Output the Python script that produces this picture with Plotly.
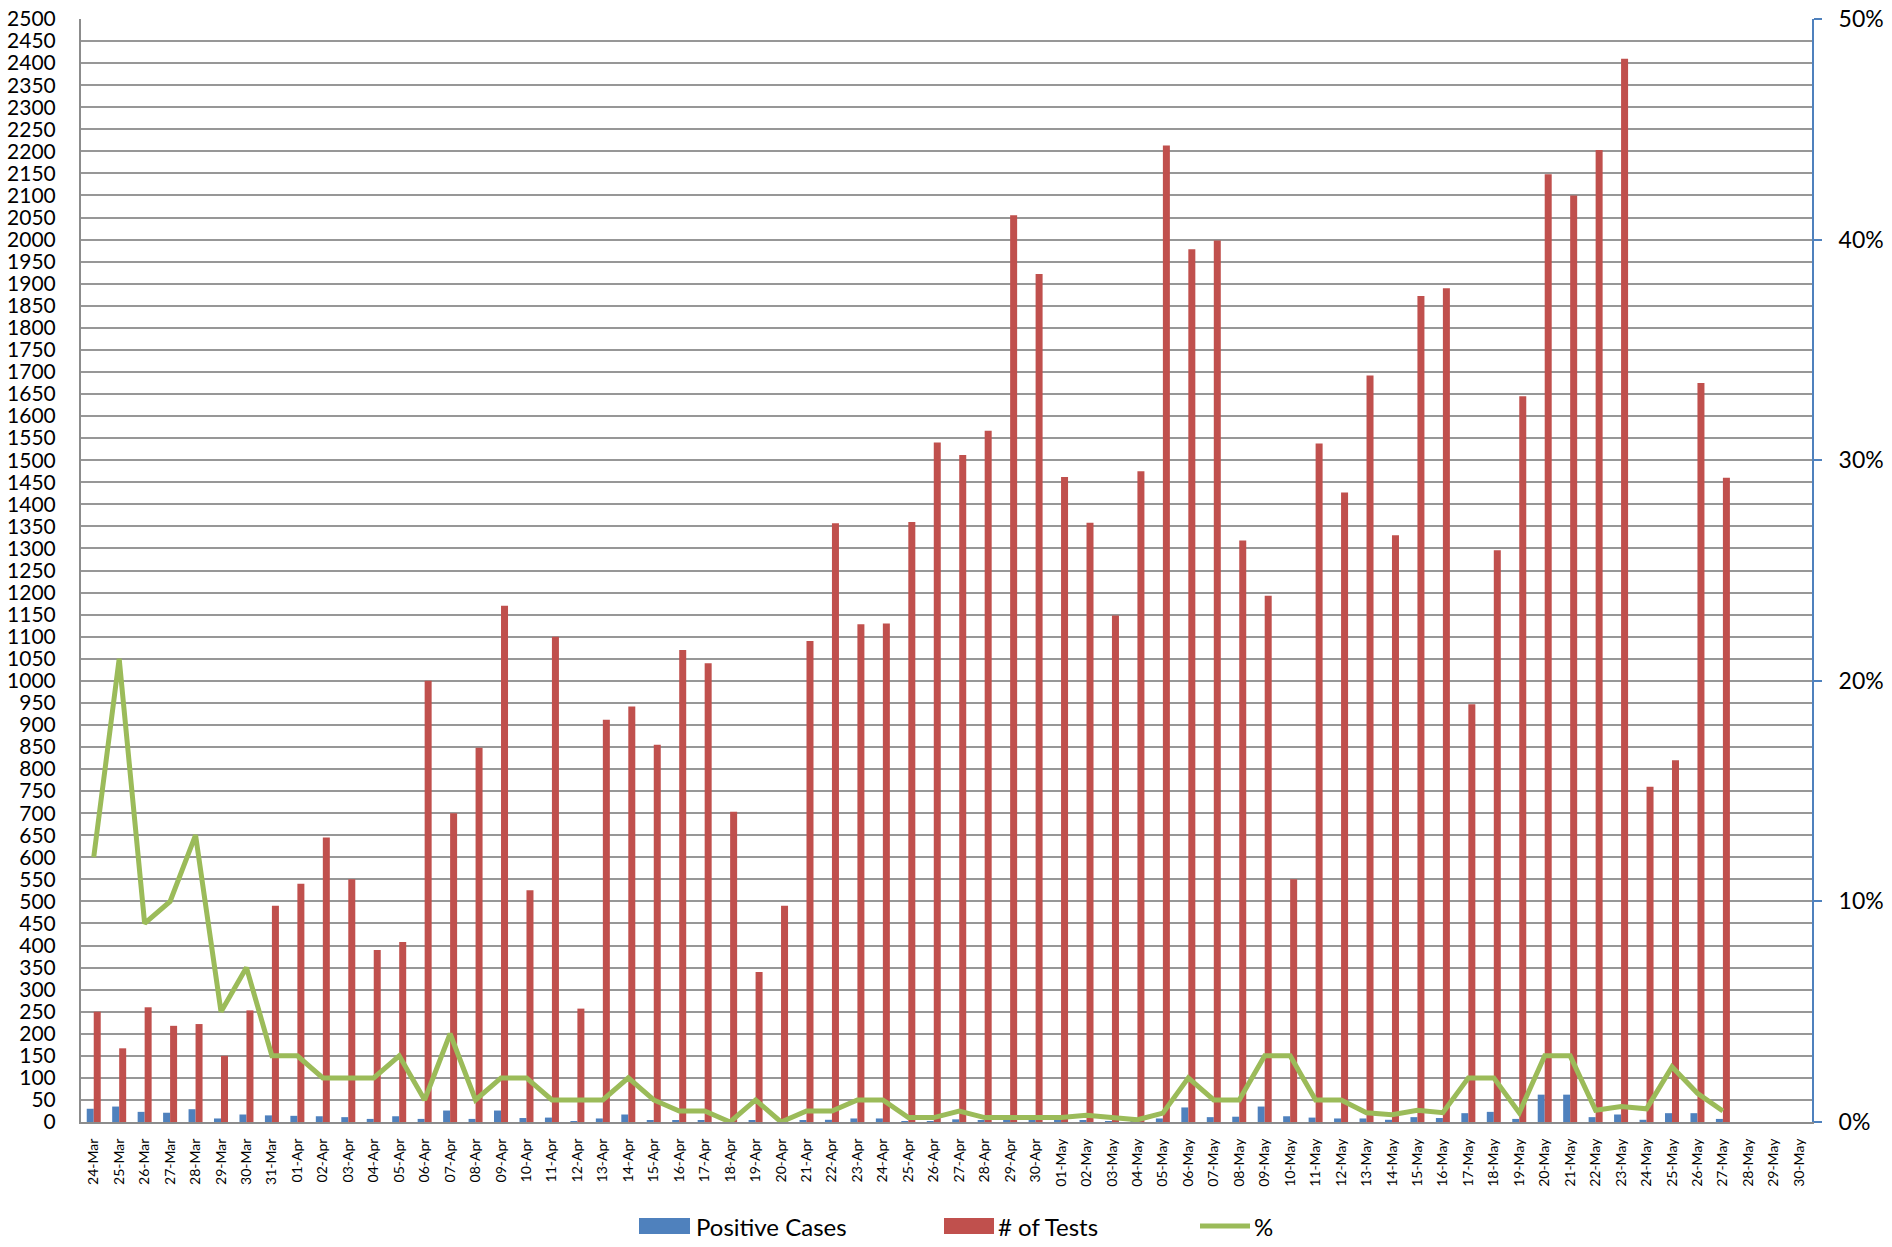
import plotly.graph_objects as go

dates = ["24-Mar","25-Mar","26-Mar","27-Mar","28-Mar","29-Mar","30-Mar","31-Mar",
         "01-Apr","02-Apr","03-Apr","04-Apr","05-Apr","06-Apr","07-Apr","08-Apr","09-Apr","10-Apr",
         "11-Apr","12-Apr","13-Apr","14-Apr","15-Apr","16-Apr","17-Apr","18-Apr","19-Apr","20-Apr",
         "21-Apr","22-Apr","23-Apr","24-Apr","25-Apr","26-Apr","27-Apr","28-Apr","29-Apr","30-Apr",
         "01-May","02-May","03-May","04-May","05-May","06-May","07-May","08-May","09-May","10-May",
         "11-May","12-May","13-May","14-May","15-May","16-May","17-May","18-May","19-May","20-May",
         "21-May","22-May","23-May","24-May","25-May","26-May","27-May","28-May","29-May","30-May"]

positive_cases = [30,35,23,21,29,8,17,15,
                  14,13,11,7,13,7,26,7,26,9,
                  10,2,8,17,4,4,3,0,3,0,
                  4,5,8,8,2,2,6,3,3,3,
                  3,4,2,1,8,33,11,12,35,13,
                  10,8,8,5,11,9,20,23,7,62,
                  62,11,17,5,20,20,7,None,None,None]

num_tests = [250,167,260,218,222,150,253,490,
             540,645,550,390,408,1000,700,848,1170,525,
             1100,257,912,942,855,1070,1040,703,340,490,
             1090,1357,1128,1130,1360,1540,1512,1567,2055,1922,
             1462,1358,1148,1475,2213,1978,1998,1318,1193,550,
             1538,1427,1692,1330,1872,1890,947,1296,1645,2148,
             2100,2203,2410,760,820,1675,1460,None,None,None]

pct_positive = [0.12,0.21,0.09,0.10,0.13,0.05,0.07,0.03,
                0.03,0.02,0.02,0.02,0.03,0.01,0.04,0.01,0.02,0.02,
                0.01,0.01,0.01,0.02,0.01,0.005,0.005,0.0,0.01,0.0,
                0.005,0.005,0.01,0.01,0.002,0.002,0.005,0.002,0.002,0.002,
                0.002,0.003,0.002,0.001,0.004,0.02,0.01,0.01,0.03,0.03,
                0.01,0.01,0.0042,0.0033,0.0053,0.0042,0.02,0.02,0.0042,0.03,
                0.03,0.0053,0.007,0.006,0.025,0.013,0.005,None,None,None]

series_names = ["Positive Cases", "# of Tests", "%"]

FONT = "Lato, 'Open Sans', sans-serif"
BLUE = "#4f81bd"
RED = "#c0504d"
GREEN = "#9bbb59"

# page body margin is removed (post_script), so the figure fills the window;
# plot area at screen x 81..1812, y 19..1122
W, H = 1892, 1247
ML, MR, MT, MB = 81, W - 1812, 19, H - 1122
PW, PH = W - ML - MR, H - MT - MB

def px_x(sx):
    return (sx - ML) / PW

def px_y(sy):
    return (H - MB - sy) / PH

fig = go.Figure()
fig.add_trace(go.Bar(x=dates, y=positive_cases, name=series_names[0],
                     marker=dict(color=BLUE, line=dict(width=0))))
fig.add_trace(go.Bar(x=dates, y=num_tests, name=series_names[1],
                     marker=dict(color=RED, line=dict(width=0))))
fig.add_trace(go.Scatter(x=dates, y=pct_positive, name=series_names[2], mode="lines",
                         line=dict(color=GREEN, width=5), yaxis="y2",
                         connectgaps=False))

# legend at the bottom with wide swatches like the original
leg_y = 1226
LEG_FONT = dict(size=24, family=FONT, color="black")
shapes = [
    dict(type="rect", xref="paper", yref="paper", x0=px_x(639), x1=px_x(690),
         y0=px_y(leg_y + 8), y1=px_y(leg_y - 8), fillcolor=BLUE, line=dict(width=0)),
    dict(type="rect", xref="paper", yref="paper", x0=px_x(944), x1=px_x(994),
         y0=px_y(leg_y + 8), y1=px_y(leg_y - 8), fillcolor=RED, line=dict(width=0)),
    dict(type="line", xref="paper", yref="paper", x0=px_x(1200), x1=px_x(1250),
         y0=px_y(leg_y), y1=px_y(leg_y), line=dict(color=GREEN, width=5)),
]
annotations = [
    dict(text=series_names[0], xref="paper", yref="paper", x=px_x(694), y=px_y(leg_y),
         xanchor="left", yanchor="middle", showarrow=False, font=LEG_FONT),
    dict(text=series_names[1], xref="paper", yref="paper", x=px_x(996), y=px_y(leg_y),
         xanchor="left", yanchor="middle", showarrow=False, font=LEG_FONT),
    dict(text=series_names[2], xref="paper", yref="paper", x=px_x(1252), y=px_y(leg_y),
         xanchor="left", yanchor="middle", showarrow=False, font=LEG_FONT),
]

fig.update_layout(
    width=W, height=H,
    paper_bgcolor="white", plot_bgcolor="white",
    margin=dict(l=ML, r=MR, t=MT, b=MB, autoexpand=False),
    barmode="group", bargap=0.45, bargroupgap=0,
    font=dict(family=FONT, color="black"),
    showlegend=False,
    shapes=shapes, annotations=annotations,
    xaxis=dict(type="category", tickangle=-90, tickfont=dict(size=14, family=FONT),
               showgrid=False, showline=True, linecolor="#8c8c8c", linewidth=2,
               ticks="", ticklabelstandoff=9, automargin=False),
    yaxis=dict(range=[0, 2500], dtick=50, tickfont=dict(size=21, family=FONT),
               showgrid=True, gridcolor="#979797", gridwidth=2,
               showline=True, linecolor="#8c8c8c", linewidth=2,
               zeroline=False, ticks="", ticklabelstandoff=19, automargin=False,
               ticklabeloverflow="allow"),
    yaxis2=dict(range=[0, 0.5], dtick=0.1, tickformat=".0%", overlaying="y", side="right",
                tickfont=dict(size=23, family=FONT), showgrid=False,
                showline=True, linecolor=BLUE, linewidth=2, zeroline=False,
                ticks="outside", tickcolor=BLUE, ticklen=8, tickwidth=2,
                ticklabelstandoff=12, automargin=False, ticklabeloverflow="allow"),
)

fig.write_html("out.html", config={"displayModeBar": False},
               post_script="document.body.style.margin='0px';document.body.style.overflow='hidden';")
